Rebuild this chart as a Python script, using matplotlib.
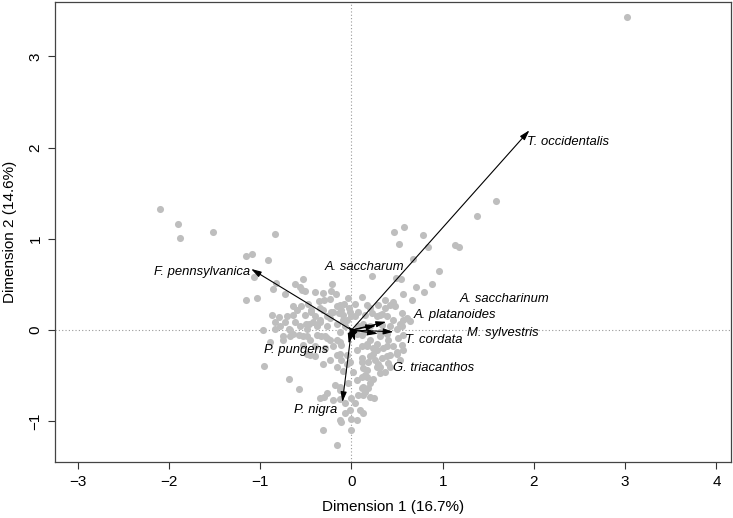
import matplotlib
matplotlib.use("Agg")
import matplotlib.pyplot as plt

plt.rcParams['font.family'] = ['Liberation Sans', 'DejaVu Sans']

# site scores (Dimension 1, Dimension 2)
dim1 = [
    -2.10, -1.90, -1.88, -1.52, -0.84, -1.16, -1.09, -0.91, -1.07, -0.83,
    -0.53, -0.62, -0.54, -0.21, -0.23, -0.17, -0.31, -0.73, 0.22, 0.12,
    -0.04, -1.04, -1.16, 3.02, 1.58, 1.38, 0.47, 0.58, 0.78, 0.52,
    0.84, 1.14, 1.18, 0.67, 0.96, 0.88, 0.71, 0.80, 0.56, 0.49,
    0.54, 0.66, 0.45, 0.37, -0.86, -0.56, -0.51, -0.40, -0.36, -0.30,
    -0.24, -0.55, -0.48, -0.34, -0.16, -0.08, -0.03, 0.17, 0.20, 0.29,
    0.37, 0.48, -0.87, -0.71, -0.64, -0.79, -0.51, -0.40, -0.27, -0.24,
    -0.14, -0.09, 0.15, 0.22, 0.28, 0.33, 0.39, 0.55, 0.57, 0.64,
    -0.97, -0.78, -0.69, -0.56, -0.49, -0.38, -0.27, -0.16, -0.13, 0.13,
    0.20, 0.33, 0.42, 0.50, 0.55, -0.67, -0.58, -0.46, -0.33, -0.24,
    -0.13, 0.11, 0.20, 0.31, 0.40, 0.51, 0.55, -0.89, -0.96, -0.69,
    -0.58, -0.16, -0.24, -0.05, 0.06, 0.17, 0.28, 0.39, -0.02, 0.11,
    0.20, 0.33, 0.40, 0.28, 0.13, 0.02, -0.09, -0.16, 0.06, 0.17,
    0.24, -0.04, -0.13, 0.13, 0.20, 0.07, 0.15, 0.18, 0.00, -0.07,
    0.04, 0.25, 0.09, -0.07, -0.20, -0.27, -0.31, 0.00, -0.16, 0.37,
    0.39, -0.12, 0.00, -0.30, -0.13, -0.18, 0.11, 0.15, 0.13, 0.11,
    0.31, -0.35, -0.13, -0.13, -0.02, -0.31, -0.40, -0.49, -0.13, -0.11,
    -0.05, -0.75, -0.49, -0.38, -0.27, -0.16, -0.11, 0.42, 0.31, 0.53,
    0.50, 0.57, 0.46, 0.24, 0.17, 0.11, 0.18, 0.26, 0.17, 0.57,
    0.31, 0.46, 0.53, 0.61, 0.42, -0.64, -0.84, -0.67, -0.50, -0.44,
    -0.35, -0.22, -0.13, -0.11, -0.09, -0.64, -0.53, -0.29, 0.00, -0.42,
    0.31, 0.39, 0.28, 0.35, 0.50, 0.42, 0.24, 0.29, 0.11, 0.06,
    0.07, 0.15, -0.07, -0.05, 0.04, 0.07, -0.02, 0.04, -0.20, -0.31,
    -0.44, -0.60, -0.35, -0.47, -0.62, -0.73, -0.84, -0.75, -0.53, -0.40,
    -0.29, -0.20, -0.46, 0.20, 0.13, 0.06,
]
dim2 = [
    1.33, 1.16, 1.01, 1.07, 1.05, 0.81, 0.83, 0.77, 0.58, 0.52,
    0.56, 0.50, 0.44, 0.51, 0.43, 0.39, 0.41, 0.40, 0.59, 0.36,
    0.35, 0.35, 0.33, 3.43, 1.42, 1.25, 1.07, 1.13, 1.04, 0.94,
    0.91, 0.93, 0.91, 0.78, 0.65, 0.51, 0.47, 0.42, 0.40, 0.57,
    0.56, 0.33, 0.31, 0.33, 0.45, 0.47, 0.43, 0.42, 0.32, 0.33,
    0.34, 0.26, 0.29, 0.24, 0.26, 0.29, 0.24, 0.27, 0.24, 0.27,
    0.24, 0.26, 0.17, 0.15, 0.16, 0.14, 0.16, 0.15, 0.15, 0.13,
    0.19, 0.16, 0.16, 0.19, 0.15, 0.18, 0.15, 0.19, 0.11, 0.10,
    0.00, 0.04, 0.01, 0.04, 0.01, 0.04, 0.04, 0.07, -0.02, 0.07,
    0.04, 0.05, 0.04, 0.01, 0.04, -0.07, -0.05, -0.11, -0.07, -0.11,
    -0.13, -0.05, -0.11, -0.07, -0.11, -0.09, -0.16, -0.13, -0.39, -0.54,
    -0.65, -0.27, -0.33, -0.27, -0.22, -0.18, -0.22, -0.18, -0.35, -0.31,
    -0.29, -0.31, -0.36, -0.40, -0.42, -0.46, -0.45, -0.40, -0.55, -0.51,
    -0.54, -0.58, -0.62, -0.62, -0.58, -0.71, -0.68, -0.64, -0.75, -0.80,
    -0.80, -0.75, -0.88, -0.91, -0.77, -0.69, -1.10, -1.10, -1.26, -0.46,
    -0.29, -1.01, -0.98, -0.73, -0.76, -0.60, -0.64, -0.49, -0.71, -0.51,
    -0.47, -0.74, -0.66, -0.99, -0.88, -0.37, -0.29, -0.26, -0.26, -0.33,
    -0.37, -0.11, -0.07, -0.05, -0.09, -0.11, -0.16, -0.40, -0.40, -0.33,
    -0.24, -0.22, -0.18, -0.20, -0.15, -0.35, -0.35, -0.33, -0.44, -0.05,
    0.16, 0.11, 0.07, 0.13, 0.27, 0.26, 0.01, 0.00, 0.07, 0.20,
    0.11, 0.20, 0.27, 0.22, 0.11, -0.04, -0.07, -0.07, 0.15, 0.09,
    -0.02, -0.04, -0.15, -0.20, -0.26, -0.27, -0.26, -0.37, -0.18, -0.04,
    0.04, -0.02, 0.04, 0.11, 0.15, 0.20, 0.20, 0.29, 0.20, 0.22,
    0.22, 0.22, 0.09, 0.07, 0.09, 0.09, 0.09, -0.07, -0.16, -0.18,
    -0.20, -0.18, -0.27, -0.73, -0.91, -0.99,
]

# species loadings (arrow tips)
species = ['T. occidentalis', 'F. pennsylvanica', 'A. saccharum', 'A. saccharinum',
           'A. platanoides', 'M. sylvestris', 'T. cordata', 'G. triacanthos',
           'P. pungens', 'P. nigra']
load1 = [1.95, -1.10, -0.04, 0.38, 0.27, 0.29, 0.46, 0.04, -0.03, -0.10]
load2 = [2.19, 0.67, 0.04, 0.09, 0.05, -0.04, -0.02, -0.12, -0.15, -0.79]

# where each species name sits
lab_x = [1.92, -1.11, 0.14, 1.19, 0.68, 1.27, 0.59, 0.46, -0.26, -0.16]
lab_y = [2.06, 0.64, 0.69, 0.34, 0.17, -0.03, -0.11, -0.42, -0.22, -0.88]
lab_ha = ['left', 'right', 'center', 'left', 'left', 'left', 'left', 'left', 'right', 'right']

fig = plt.figure(figsize=(7.33, 5.18), dpi=100)
ax = fig.add_axes([55 / 733, 56 / 518, 676 / 733, 460 / 518])

ax.axhline(0, color='#999999', lw=0.8, ls=(0, (1, 2)), zorder=0)
ax.axvline(0, color='#999999', lw=0.8, ls=(0, (1, 2)), zorder=0)

ax.scatter(dim1, dim2, s=26, color='#bebebe', linewidths=0, zorder=1)

for i in range(len(species)):
    ax.annotate('', xy=(load1[i], load2[i]), xytext=(0, 0),
                arrowprops=dict(arrowstyle='-|>,head_length=0.6,head_width=0.18',
                                color='black', lw=0.8, shrinkA=0, shrinkB=0),
                zorder=3)
    ax.text(lab_x[i], lab_y[i], species[i], ha=lab_ha[i], va='center',
            fontsize=9.4, style='italic', zorder=4)

ax.set_xlim(-3.25, 4.16)
ax.set_ylim(-1.447, 3.597)
ax.set_xticks([-3, -2, -1, 0, 1, 2, 3, 4])
ax.set_yticks([-1, 0, 1, 2, 3])
ax.set_xticklabels(['\u22123', '\u22122', '\u22121', '0', '1', '2', '3', '4'])
ax.set_yticklabels(['\u22121', '0', '1', '2', '3'], rotation=90, va='center')
ax.tick_params(direction='out', length=5, width=0.8, colors='#333333',
               labelsize=11, labelcolor='black', pad=4)
for sp in ax.spines.values():
    sp.set_color('#444444')
    sp.set_linewidth(0.9)

ax.set_xlabel('Dimension 1 (16.7%)', fontsize=11, labelpad=8)
ax.set_ylabel('Dimension 2 (14.6%)', fontsize=11, labelpad=8)

fig.savefig('out.png', dpi=100)
